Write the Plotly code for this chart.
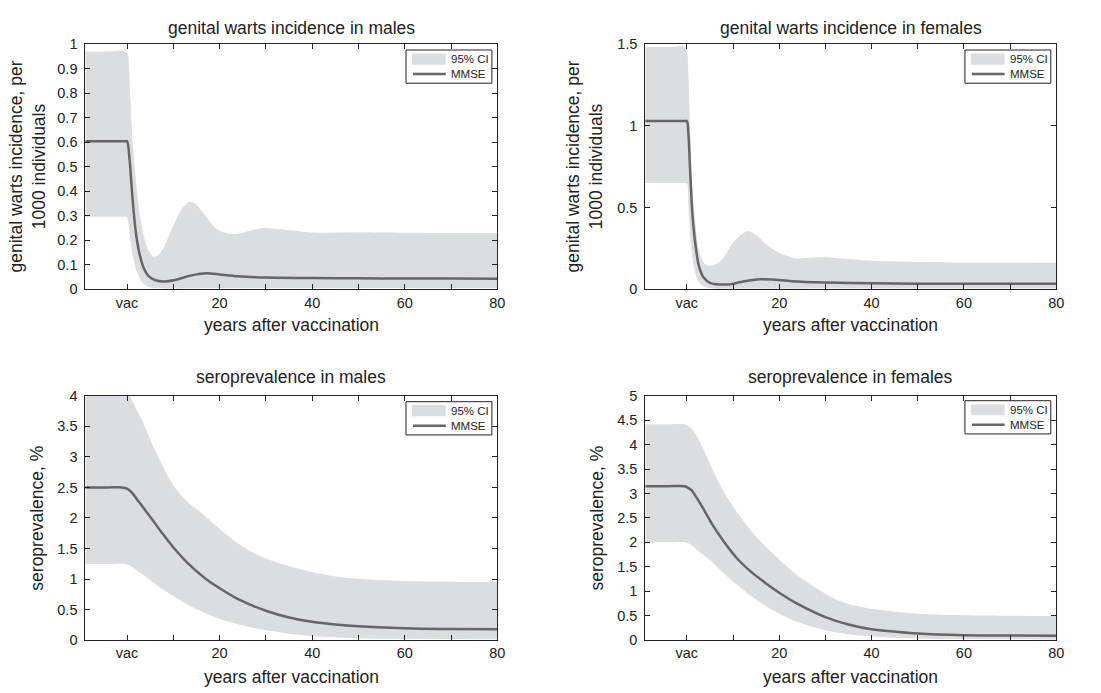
import plotly.graph_objects as go

W, H = 1101, 693

# ---------------- genital warts incidence in males (per 1000) ----------------
wm_t = [-9, -4, -0.4, 0, 0.55, 1.2, 1.9, 2.6, 3.6, 4.6, 6, 8, 10.4, 13.2, 15.9, 17.9, 20, 24, 30,
        40, 50, 60, 70, 80]
wm_mmse = [0.604, 0.604, 0.604, 0.604, 0.527, 0.367, 0.233, 0.153, 0.087, 0.055, 0.038, 0.032,
           0.038, 0.054, 0.064, 0.065, 0.061, 0.053, 0.048, 0.046, 0.045, 0.044, 0.044, 0.043]
wm_hi_t = [-9, -4, -0.2, 0.2, 0.75, 1.2, 1.9, 2.6, 3.6, 4.6, 5.8, 6.7, 8, 9.7, 11.8, 13.5, 14.9,
           16.9, 19.3, 22, 24, 26.8, 29.5, 33.6, 40, 50, 60, 70, 80]
wm_hi = [0.97, 0.97, 0.97, 0.953, 0.767, 0.607, 0.447, 0.327, 0.22, 0.16, 0.133, 0.14, 0.173,
         0.247, 0.327, 0.357, 0.347, 0.30, 0.247, 0.227, 0.227, 0.24, 0.25, 0.244, 0.232, 0.233,
         0.231, 0.23, 0.23]
wm_lo_t = [-9, -4, -0.4, 0, 0.6, 1.2, 1.8, 2.4, 3.2, 4.2, 5.5, 7, 10, 20, 40, 80]
wm_lo = [0.296, 0.296, 0.296, 0.296, 0.22, 0.14, 0.09, 0.06, 0.03, 0.014, 0.006, 0.004, 0.003,
         0.004, 0.005, 0.005]

# ---------------- genital warts incidence in females (per 1000) ----------------
wf_t = [-9, -4, -0.4, 0, 0.35, 0.75, 1.2, 1.9, 2.6, 3.6, 5, 7, 9.7, 12.5, 15.9, 18.6, 22.7, 30,
        40, 50, 60, 70, 80]
wf_mmse = [1.03, 1.03, 1.03, 1.03, 0.946, 0.705, 0.465, 0.265, 0.144, 0.074, 0.040, 0.030, 0.032,
           0.050, 0.062, 0.060, 0.050, 0.042, 0.037, 0.035, 0.034, 0.034, 0.034]
wf_hi_t = [-9, -4, -0.3, 0.1, 0.35, 0.75, 1.2, 1.9, 2.6, 3.6, 4.6, 6, 7.7, 9.7, 11.8, 13.3, 14.9,
           17.2, 20, 23.4, 26.1, 30, 33.6, 40, 50, 60, 70, 80]
wf_hi = [1.483, 1.483, 1.483, 1.45, 1.31, 0.946, 0.625, 0.385, 0.244, 0.164, 0.144, 0.15, 0.184,
         0.275, 0.335, 0.355, 0.335, 0.275, 0.224, 0.19, 0.192, 0.196, 0.188, 0.175, 0.168, 0.165,
         0.164, 0.163]
wf_lo_t = [-9, -4, -0.4, 0, 0.35, 0.9, 1.6, 2.6, 4, 5.7, 8, 20, 40, 80]
wf_lo = [0.65, 0.65, 0.65, 0.65, 0.505, 0.265, 0.124, 0.044, 0.014, 0.005, 0.004, 0.004, 0.005,
         0.005]

# ---------------- seroprevalence in males (%) ----------------
sm_t = [-9, -4, -1, 0, 1, 2, 3.5, 5.2, 7.5, 10.2, 13, 16.9, 20, 24, 30, 35, 40, 45, 50, 60, 70, 80]
sm_mmse = [2.5, 2.5, 2.5, 2.48, 2.42, 2.32, 2.17, 2.0, 1.76, 1.5, 1.27, 1.01, 0.85, 0.67, 0.48,
           0.37, 0.3, 0.255, 0.225, 0.195, 0.182, 0.175]
sm_hi_t = [-9, -4, 0, 0.6, 1.3, 3.4, 5.5, 7.7, 9.8, 12.7, 15.5, 20, 24, 28.3, 33.3, 39.7, 47.5,
           58, 70, 80]
sm_hi = [4.1, 4.1, 4.1, 4.0, 3.89, 3.57, 3.2, 2.85, 2.56, 2.29, 2.12, 1.82, 1.58, 1.39, 1.25,
         1.12, 1.02, 0.97, 0.955, 0.95]
sm_lo_t = [-9, -4, -0.5, 1, 3.6, 7, 10.4, 13.8, 20, 24, 30, 40, 50, 60, 80]
sm_lo = [1.245, 1.245, 1.245, 1.2, 1.06, 0.87, 0.70, 0.55, 0.35, 0.26, 0.16, 0.065, 0.03, 0.02,
         0.012]

# ---------------- seroprevalence in females (%) ----------------
sf_t = [-9, -4, -0.5, 0, 1, 2, 3.5, 5.5, 8, 11, 14, 17, 20, 24, 30, 35, 40, 50, 60, 70, 80]
sf_mmse = [3.15, 3.15, 3.15, 3.13, 3.07, 2.93, 2.7, 2.37, 2.02, 1.66, 1.39, 1.17, 0.97, 0.74, 0.47,
           0.32, 0.22, 0.135, 0.1, 0.092, 0.09]
sf_hi_t = [-9, -4, -0.5, 0, 1, 2, 3.5, 5.5, 8, 11, 14, 17, 20, 24, 30, 34, 40, 50, 60, 70, 80]
sf_hi = [4.42, 4.42, 4.42, 4.4, 4.33, 4.2, 3.93, 3.5, 3.03, 2.6, 2.23, 1.92, 1.65, 1.32, 0.95,
         0.77, 0.64, 0.54, 0.51, 0.5, 0.49]
sf_lo_t = [-9, -4, -0.3, 1, 2, 3.5, 5.5, 8, 11, 14, 17, 20, 24, 30, 35, 40, 50, 60, 80]
sf_lo = [2.0, 2.0, 2.0, 1.94, 1.86, 1.75, 1.6, 1.37, 1.12, 0.89, 0.7, 0.54, 0.37, 0.2, 0.12, 0.075,
         0.033, 0.02, 0.013]

# axis ticks shared by every panel
x_tickvals = [0, 10, 20, 30, 40, 50, 60, 70, 80]
x_ticktext = ["vac", "", "20", "", "40", "", "60", "", "80"]

titles = ["genital warts incidence in males", "genital warts incidence in females",
          "seroprevalence in males", "seroprevalence in females"]
ytitles = ["genital warts incidence, per<br>1000 individuals",
           "genital warts incidence, per<br>1000 individuals",
           "seroprevalence, %", "seroprevalence, %"]
y_max = [1, 1.5, 4, 5]
y_dtick = [0.1, 0.5, 0.5, 0.5]

BAND = "rgb(220,221,224)"
LINE = "#666666"
INK = "#222222"
FONT = "Liberation Sans, Arial, sans-serif"

series = [
    (wm_t, wm_mmse, wm_hi_t, wm_hi, wm_lo_t, wm_lo),
    (wf_t, wf_mmse, wf_hi_t, wf_hi, wf_lo_t, wf_lo),
    (sm_t, sm_mmse, sm_hi_t, sm_hi, sm_lo_t, sm_lo),
    (sf_t, sf_mmse, sf_hi_t, sf_hi, sf_lo_t, sf_lo),
]

# panel boxes in pixels: (left, right, top, bottom)
boxes = [(86, 501, 37, 288), (650, 1064, 37, 288), (86, 501, 397, 647), (650, 1064, 397, 647)]
# legend box top-left corners in pixels
legend_at = [(409, 43), (972, 43), (409, 403), (972, 402)]
# y-axis title centres (x) and x-axis title rows (y)
ytitle_x = [28, 589, 37, 601]
xtitle_y = [325, 325, 685, 685]
title_y = [20, 20, 378, 378]


def px(x):
    return x / W


def py(y):
    return 1 - y / H


fig = go.Figure()
annotations = []
shapes = []
layout_axes = {}
spline = dict(shape="spline", smoothing=0.9)

for i, (t, mmse, hi_t, hi, lo_t, lo) in enumerate(series):
    n = "" if i == 0 else str(i + 1)
    xa, ya = "x" + n, "y" + n
    fig.add_trace(go.Scatter(x=lo_t, y=lo, xaxis=xa, yaxis=ya, mode="lines",
                             line=dict(width=0, **spline), showlegend=False, hoverinfo="skip"))
    fig.add_trace(go.Scatter(x=hi_t, y=hi, xaxis=xa, yaxis=ya, mode="lines", name="95% CI",
                             line=dict(width=0, **spline), fill="tonexty", fillcolor=BAND,
                             showlegend=False))
    fig.add_trace(go.Scatter(x=t, y=mmse, xaxis=xa, yaxis=ya, mode="lines", name="MMSE",
                             line=dict(color=LINE, width=2.5, **spline), showlegend=False))

    l, r, top, bot = boxes[i]
    common = dict(ticks="inside", ticklen=5, tickwidth=1, tickcolor=INK, showline=True,
                  linecolor=INK, linewidth=1, mirror="ticks", showgrid=False, zeroline=False,
                  tickfont=dict(family=FONT, size=14.5, color=INK))
    layout_axes["xaxis" + n] = dict(domain=[px(l), px(r)], anchor=ya, range=[-9, 80],
                                    tickmode="array", tickvals=x_tickvals, ticktext=x_ticktext,
                                    ticklabelstandoff=0, **common)
    layout_axes["yaxis" + n] = dict(domain=[py(bot), py(top)], anchor=xa, range=[0, y_max[i]],
                                    dtick=y_dtick[i], tick0=0, ticklabelstandoff=4, **common)

    cx = (l + r) / 2
    annotations.append(dict(text=titles[i], x=px(cx), y=py(title_y[i]), xref="paper", yref="paper",
                            xanchor="center", yanchor="middle", showarrow=False,
                            font=dict(family=FONT, size=17.5, color=INK)))
    annotations.append(dict(text="years after vaccination", x=px(cx), y=py(xtitle_y[i]),
                            xref="paper", yref="paper", xanchor="center", yanchor="middle",
                            showarrow=False, font=dict(family=FONT, size=17.5, color=INK)))
    annotations.append(dict(text=ytitles[i], x=px(ytitle_x[i]), y=py((top + bot) / 2),
                            xref="paper", yref="paper", xanchor="center", yanchor="middle",
                            textangle=-90, showarrow=False,
                            font=dict(family=FONT, size=17.5, color=INK)))

    # legend: framed box with a band swatch and a line sample
    bx, by = legend_at[i]
    shapes.append(dict(type="rect", xref="paper", yref="paper", x0=px(bx), x1=px(bx + 86.5),
                       y0=py(by), y1=py(by + 34), line=dict(color=INK, width=1),
                       fillcolor="white", layer="above"))
    shapes.append(dict(type="rect", xref="paper", yref="paper", x0=px(bx + 6), x1=px(bx + 40),
                       y0=py(by + 3.5), y1=py(by + 15), line=dict(width=0), fillcolor=BAND,
                       layer="above"))
    shapes.append(dict(type="line", xref="paper", yref="paper", x0=px(bx + 7), x1=px(bx + 40),
                       y0=py(by + 24.5), y1=py(by + 24.5), line=dict(color=LINE, width=2.5),
                       layer="above"))
    for label, dy in (("95% CI", 9.5), ("MMSE", 25)):
        annotations.append(dict(text=label, x=px(bx + 43), y=py(by + dy), xref="paper",
                                yref="paper", xanchor="left", yanchor="middle", showarrow=False,
                                font=dict(family=FONT, size=11.5, color=INK)))

fig.update_layout(width=W, height=H, margin=dict(l=0, r=0, t=0, b=0),
                  paper_bgcolor="white", plot_bgcolor="white",
                  font=dict(family=FONT, color=INK), showlegend=False,
                  annotations=annotations, shapes=shapes, **layout_axes)

fig.write_html("out.html")
